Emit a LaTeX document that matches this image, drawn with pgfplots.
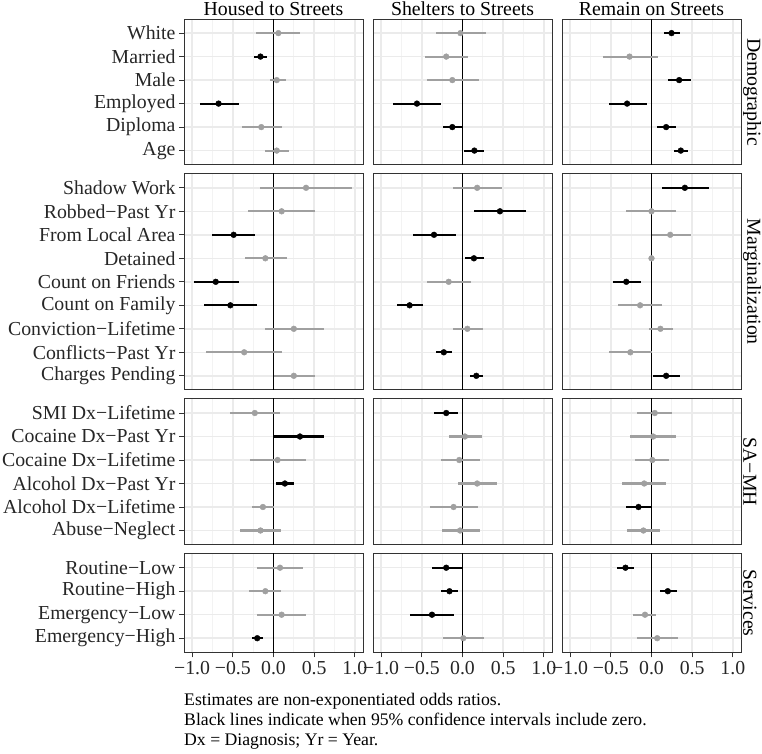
\documentclass[border=0pt]{standalone}
\usepackage{fontspec}
\setmainfont{Liberation Serif}
\usepackage{pgfplots}
\pgfplotsset{compat=1.18}
\usepackage{pgfplotstable}
\definecolor{gpt}{RGB}{160,160,160}
\definecolor{gridc}{RGB}{235,235,235}
\definecolor{framec}{RGB}{51,51,51}
\newcommand{\bigf}{\fontsize{19.8pt}{22pt}\selectfont}
\newcommand{\capf}{\fontsize{17.7pt}{20pt}\selectfont}

\pgfplotstableread{
y e1 l1 h1 s1 e2 l2 h2 s2 e3 l3 h3 s3
1 0.06 -0.21 0.33 0 -0.025 -0.32 0.29 0 0.246 0.15 0.35 1
2 -0.16 -0.24 -0.075 1 -0.2 -0.46 0.07 0 -0.27 -0.6 0.075 0
3 0.04 -0.04 0.15 0 -0.125 -0.44 0.2 0 0.34 0.2 0.48 1
4 -0.675 -0.9 -0.43 1 -0.56 -0.85 -0.27 1 -0.3 -0.525 -0.06 1
5 -0.15 -0.39 0.10 0 -0.125 -0.24 -0.01 1 0.18 0.07 0.30 1
6 0.04 -0.10 0.19 0 0.146 0.02 0.27 1 0.36 0.275 0.45 1
}\tDem

\pgfplotstableread{
y e1 l1 h1 s1 e2 l2 h2 s2 e3 l3 h3 s3
1 0.40 -0.17 0.97 0 0.18 -0.12 0.49 0 0.41 0.13 0.71 1
2 0.10 -0.31 0.51 0 0.46 0.146 0.78 1 0.0 -0.31 0.30 0
3 -0.49 -0.75 -0.23 1 -0.35 -0.61 -0.075 1 0.23 0.0 0.48 0
4 -0.10 -0.35 0.16 0 0.14 0.03 0.27 1 0.0 -0.03 0.03 0
5 -0.71 -0.975 -0.43 1 -0.17 -0.44 0.11 0 -0.31 -0.475 -0.13 1
6 -0.53 -0.85 -0.2 1 -0.65 -0.81 -0.49 1 -0.14 -0.41 0.13 0
7 0.25 -0.1 0.62 0 0.06 -0.12 0.25 0 0.11 -0.03 0.27 0
8 -0.36 -0.83 0.11 0 -0.23 -0.32 -0.13 1 -0.26 -0.525 0.0 0
9 0.25 0.0 0.51 0 0.17 0.09 0.25 1 0.18 0.02 0.35 1
}\tMar

\pgfplotstableread{
y e1 l1 h1 s1 e2 l2 h2 s2 e3 l3 h3 s3
1 -0.23 -0.54 0.075 0 -0.2 -0.35 -0.05 1 0.04 -0.18 0.25 0
2 0.325 0.0 0.62 1 0.03 -0.17 0.24 0 0.02 -0.27 0.30 0
3 0.05 -0.29 0.40 0 -0.04 -0.27 0.21 0 0.01 -0.2 0.22 0
4 0.14 0.03 0.25 1 0.18 -0.05 0.42 0 -0.09 -0.36 0.18 0
5 -0.13 -0.27 0.0 0 -0.11 -0.4 0.19 0 -0.16 -0.31 -0.01 1
6 -0.16 -0.41 0.09 0 -0.03 -0.25 0.21 0 -0.1 -0.3 0.1 0
}\tSam

\pgfplotstableread{
y e1 l1 h1 s1 e2 l2 h2 s2 e3 l3 h3 s3
1 0.08 -0.2 0.36 0 -0.2 -0.375 -0.01 1 -0.32 -0.42 -0.22 1
2 -0.10 -0.30 0.09 0 -0.16 -0.26 -0.06 1 0.2 0.1 0.31 1
3 0.10 -0.2 0.40 0 -0.375 -0.64 -0.1 1 -0.08 -0.225 0.06 0
4 -0.20 -0.27 -0.13 1 0.01 -0.24 0.26 0 0.07 -0.175 0.325 0
}\tSer

\newcommand{\cis}[2]{%
\addplot[black, line width=1.5pt, forget plot] coordinates {(0,0) (0,20)};
\addplot[gpt, only marks, mark=*, mark size=2.9pt, mark options={draw=gpt, fill=gpt},
  error bars/.cd, x dir=both, x explicit, error mark=none,
  error bar style={line width=2.2pt, gpt}]
  table[x=e#2, y=y, x error plus expr=\thisrow{h#2}-\thisrow{e#2},
    x error minus expr=\thisrow{e#2}-\thisrow{l#2},
    restrict expr to domain={\thisrow{s#2}}{-0.5:0.5}] {#1};
\addplot[black, only marks, mark=*, mark size=2.9pt, mark options={draw=black, fill=black},
  error bars/.cd, x dir=both, x explicit, error mark=none,
  error bar style={line width=2.2pt, black}]
  table[x=e#2, y=y, x error plus expr=\thisrow{h#2}-\thisrow{e#2},
    x error minus expr=\thisrow{e#2}-\thisrow{l#2},
    restrict expr to domain={\thisrow{s#2}}{0.5:1.5}] {#1};
}

\pgfplotsset{
  panel/.style={scale only axis, width=179pt, anchor=north west,
    xmin=-1.1, xmax=1.1, y dir=reverse, ymin=0.4,
    xtick={-1,-0.5,0,0.5,1}, minor xtick={-0.75,-0.25,0.25,0.75},
    xticklabels={−1.0,−0.5,0.0,0.5,1.0},
    grid=both, major grid style={gridc, line width=1.5pt},
    minor grid style={gridc!60!white, line width=0.8pt},
    axis line style={framec, line width=1pt},
    tick style={framec, line width=1pt},
    major tick length=5pt, minor tick length=0pt, tick align=outside,
    xtick pos=bottom, ytick pos=left,
    ticklabel style={font=\bigf, text=black!85},
  },
  nox/.style={xticklabels={}, major x tick style={draw=none}},
  noy/.style={yticklabels={}, major y tick style={draw=none}},
  demo/.style={height=145.7pt, ymax=6.6, ytick={1,...,6},
    yticklabels={White,Married,Male,Employed,Diploma,Age}},
  marg/.style={height=216.2pt, ymax=9.6, ytick={1,...,9},
    yticklabels={Shadow Work,Robbed−Past Yr,From Local Area,Detained,Count on Friends,Count on Family,Conviction−Lifetime,Conflicts−Past Yr,Charges Pending}},
  samh/.style={height=145.7pt, ymax=6.6, ytick={1,...,6},
    yticklabels={SMI Dx−Lifetime,Cocaine Dx−Past Yr,Cocaine Dx−Lifetime,Alcohol Dx−Past Yr,Alcohol Dx−Lifetime,Abuse−Neglect}},
  serv/.style={height=98.7pt, ymax=4.6, ytick={1,...,4},
    yticklabels={Routine−Low,Routine−High,Emergency−Low,Emergency−High}},
}

\begin{document}
\begin{tikzpicture}
\useasboundingbox (0,0) rectangle (762pt,-753pt);

% Row 1: Demographic
\begin{axis}[panel, demo, nox, at={(184pt,-19pt)}]
\cis{\tDem}{1}
\end{axis}
\begin{axis}[panel, demo, nox, noy, at={(373pt,-19pt)}]
\cis{\tDem}{2}
\end{axis}
\begin{axis}[panel, demo, nox, noy, at={(562pt,-19pt)}]
\cis{\tDem}{3}
\end{axis}

% Row 2: Marginalization
\begin{axis}[panel, marg, nox, at={(184pt,-173.7pt)}]
\cis{\tMar}{1}
\end{axis}
\begin{axis}[panel, marg, nox, noy, at={(373pt,-173.7pt)}]
\cis{\tMar}{2}
\end{axis}
\begin{axis}[panel, marg, nox, noy, at={(562pt,-173.7pt)}]
\cis{\tMar}{3}
\end{axis}

% Row 3: SA-MH
\begin{axis}[panel, samh, nox, at={(184pt,-398.9pt)}]
\cis{\tSam}{1}
\end{axis}
\begin{axis}[panel, samh, nox, noy, at={(373pt,-398.9pt)}]
\cis{\tSam}{2}
\end{axis}
\begin{axis}[panel, samh, nox, noy, at={(562pt,-398.9pt)}]
\cis{\tSam}{3}
\end{axis}

% Row 4: Services
\begin{axis}[panel, serv, at={(184pt,-553.6pt)}]
\cis{\tSer}{1}
\end{axis}
\begin{axis}[panel, serv, noy, at={(373pt,-553.6pt)}]
\cis{\tSer}{2}
\end{axis}
\begin{axis}[panel, serv, noy, at={(562pt,-553.6pt)}]
\cis{\tSer}{3}
\end{axis}

% Column titles
\node[anchor=base, font=\bigf, inner sep=0pt] at (273.5pt,-15pt) {Housed to Streets};
\node[anchor=base, font=\bigf, inner sep=0pt] at (462.5pt,-15pt) {Shelters to Streets};
\node[anchor=base, font=\bigf, inner sep=0pt] at (651.5pt,-15pt) {Remain on Streets};

% Row strips
\node[rotate=-90, anchor=south, font=\bigf, inner sep=0pt] at (743pt,-91.9pt) {Demographic};
\node[rotate=-90, anchor=south, font=\bigf, inner sep=0pt] at (743pt,-281.8pt) {Marginalization};
\node[rotate=-90, anchor=south, font=\bigf, inner sep=0pt] at (743pt,-471.8pt) {SA−MH};
\node[rotate=-90, anchor=south, font=\bigf, inner sep=0pt] at (743pt,-603pt) {Services};

% Caption
\node[anchor=base west, font=\capf, inner sep=0pt] at (184pt,-705pt)
  {Estimates are non-exponentiated odds ratios.};
\node[anchor=base west, font=\capf, inner sep=0pt] at (184pt,-725pt)
  {Black lines indicate when 95\% confidence intervals include zero.};
\node[anchor=base west, font=\capf, inner sep=0pt] at (184pt,-745pt)
  {Dx = Diagnosis; Yr = Year.};
\end{tikzpicture}
\end{document}
